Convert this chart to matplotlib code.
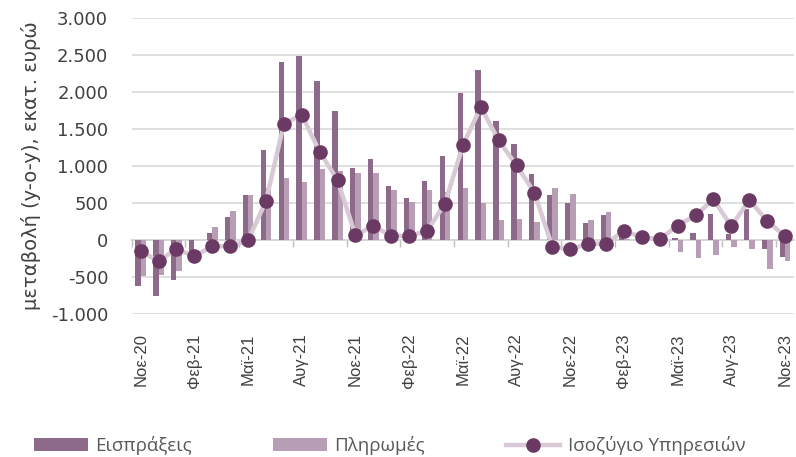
import matplotlib
matplotlib.use("Agg")
import matplotlib.pyplot as plt
from matplotlib.ticker import FuncFormatter, FixedLocator
import numpy as np

months = ["Νοε-20", "Δεκ-20", "Ιαν-21", "Φεβ-21", "Μαρ-21", "Απρ-21", "Μαϊ-21", "Ιουν-21",
          "Ιουλ-21", "Αυγ-21", "Σεπ-21", "Οκτ-21", "Νοε-21", "Δεκ-21", "Ιαν-22", "Φεβ-22",
          "Μαρ-22", "Απρ-22", "Μαϊ-22", "Ιουν-22", "Ιουλ-22", "Αυγ-22", "Σεπ-22", "Οκτ-22",
          "Νοε-22", "Δεκ-22", "Ιαν-23", "Φεβ-23", "Μαρ-23", "Απρ-23", "Μαϊ-23", "Ιουν-23",
          "Ιουλ-23", "Αυγ-23", "Σεπ-23", "Οκτ-23", "Νοε-23"]

receipts = [-626, -756, -545, -230, 97, 305, 603, 1217, 2405, 2486, 2152, 1741, 969, 1091,
            729, 562, 793, 1131, 1985, 2301, 1610, 1294, 888, 603, 495, 224, 332, 140,
            40, 5, 30, 97, 345, 84, 417, -124, -228]
payments = [-485, -481, -423, -6, 173, 390, 607, 695, 829, 779, 951, 924, 901, 901,
            671, 508, 671, 641, 702, 499, 264, 278, 246, 694, 617, 273, 373, 15,
            6, -2, -160, -246, -206, -102, -124, -390, -282]
balance = [-152, -291, -124, -224, -88, -88, -7, 522, 1569, 1691, 1190, 806, 61, 187,
           52, 52, 120, 490, 1276, 1795, 1344, 1005, 634, -97, -129, -52, -52, 120,
           34, 7, 192, 332, 545, 183, 539, 255, 47]

c_dark = "#8d6a89"
c_light = "#b89eb4"
c_line = "#d8c9d5"
c_marker = "#6a3a64"
grid_c = "#d9d9d9"
txt_c = "#404040"

fig = plt.figure(figsize=(7.96, 4.57), dpi=100)
ax = fig.add_axes([0.1655, 0.3136, 0.832, 0.647])

x = np.arange(len(months))
w = 0.3
b1 = ax.bar(x - w / 2, receipts, w, color=c_dark, label="Εισπράξεις", zorder=2)
b2 = ax.bar(x + w / 2, payments, w, color=c_light, label="Πληρωμές", zorder=2)
l1, = ax.plot(x, balance, color=c_line, lw=3.2, marker="o", ms=9.5,
              markerfacecolor=c_marker, markeredgecolor=c_marker,
              label="Ισοζύγιο Υπηρεσιών", zorder=3)

ax.set_ylim(-1000, 3000)
ax.set_xlim(-0.5, len(months) - 0.5)
ax.set_yticks(np.arange(-1000, 3001, 500))
ax.yaxis.set_major_formatter(FuncFormatter(lambda v, p: f"{v:,.0f}".replace(",", ".")))
ax.grid(axis="y", color=grid_c, lw=1.2, zorder=0)
ax.set_axisbelow(True)
for s in ax.spines.values():
    s.set_visible(False)

ax.tick_params(axis="y", length=0, pad=17, labelsize=13, labelcolor=txt_c)
ax.set_xticks(x[::3])
ax.set_xticklabels(months[::3], rotation=90, fontsize=12, color=txt_c,
                   family=["Liberation Sans", "DejaVu Sans"])
ax.tick_params(axis="x", length=0, pad=14)

# category axis line and tick marks at zero
sec = ax.secondary_xaxis(0.25)
sec.xaxis.set_major_locator(FixedLocator(list(np.arange(-0.5, len(months), 3))))
sec.set_xticklabels([])
sec.tick_params(axis="x", length=5, width=1, color="#bfbfbf")
for k, s in sec.spines.items():
    s.set_visible(k == "bottom")
sec.spines["bottom"].set_color("#bfbfbf")
sec.spines["bottom"].set_linewidth(1.2)

ax.set_ylabel("μεταβολή (y-o-y), εκατ. ευρώ", fontsize=14, color=txt_c, labelpad=7)

leg = fig.legend(handles=[b1, b2, l1], loc="lower left", bbox_to_anchor=(0.021, -0.033),
                 ncol=3, frameon=False, handlelength=2.9, handleheight=0.72,
                 columnspacing=4.3, handletextpad=0.4,
                 prop={"family": ["Open Sans", "DejaVu Sans"], "size": 13.5})
for t in leg.get_texts():
    t.set_color("#595959")

fig.savefig("out.png", dpi=100)
